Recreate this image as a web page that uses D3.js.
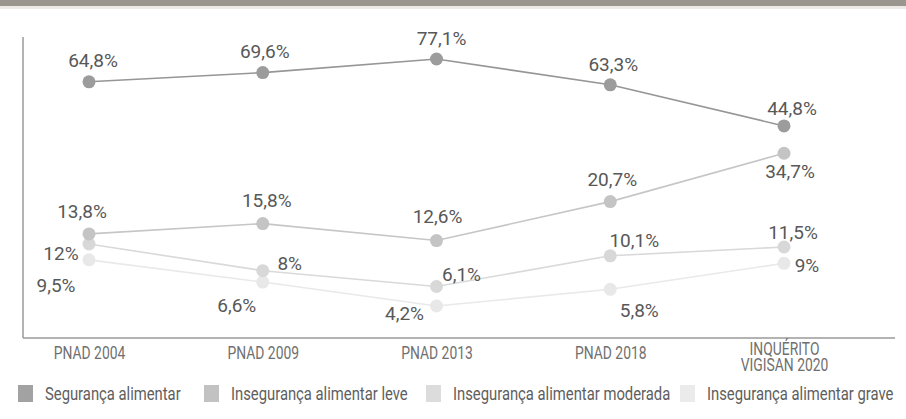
<!DOCTYPE html>
<html>
<head>
<meta charset="utf-8">
<script src="https://cdn.jsdelivr.net/npm/d3@7"></script>
<style>
  body { margin: 0; background: #fff; }
  text { font-family: Roboto, "DejaVu Sans", sans-serif; }
</style>
</head>
<body>
<div id="line-chart"></div>
<script>
// data
const categories = ["PNAD 2004", "PNAD 2009", "PNAD 2013", "PNAD 2018", "INQUÉRITO\nVIGISAN 2020"];
const seriesNames = ["Segurança alimentar", "Insegurança alimentar leve", "Insegurança alimentar moderada", "Insegurança alimentar grave"];
const seguranca = [64.8, 69.6, 77.1, 63.3, 44.8];
const insegLeve = [13.8, 15.8, 12.6, 20.7, 34.7];
const insegModerada = [12, 8, 6.1, 10.1, 11.5];
const insegGrave = [9.5, 6.6, 4.2, 5.8, 9];

// label placement (dx, dy from the point), per series
const labelOffsets = [
  [[4, -22], [2, -21], [5, -21], [3, -21], [8, -18]],
  [[-7, -23], [4, -23], [1, -24], [2, -22], [6, 18]],
  [[-28, 9], [27, -8], [25, -12], [24, -16], [9, -15]],
  [[-33, 25], [-26, 23], [-32, 7], [29, 21], [23, 2]]
];
// legend item left edges
const legendX = [18, 204, 426, 680];

function drawChart(cWidth, cHeight) {
  const lineColors = ["#969696", "#c6c6c6", "#d9d9d9", "#e9e9e9"],
    dotColors = ["#9c9c9c", "#c4c4c4", "#d8d8d8", "#e8e8e8"],
    legendColors = ["#a2a2a2", "#c2c2c2", "#dcdcdc", "#ebebeb"],
    allSeries = [seguranca, insegLeve, insegModerada, insegGrave],
    narrow = 0.75,
    svg = d3
      .select("#line-chart")
      .append("svg")
      .attr("width", cWidth)
      .attr("height", cHeight);

  // scanned page edge at the top
  svg.append("rect").attr("x", 0).attr("y", 0).attr("width", cWidth).attr("height", 6).attr("fill", "#9a958f");
  svg.append("rect").attr("x", 0).attr("y", 6).attr("width", cWidth).attr("height", 3).attr("fill", "#ece9e6");

  const x = d3.scalePoint().domain(categories).range([89, 784]),
    y = d3
      .scalePow()
      .exponent(0.35)
      .domain(d3.extent(allSeries.flat()))
      .range([306, 59]);

  // axes frame
  svg.append("line").attr("x1", 23).attr("x2", 23).attr("y1", 37).attr("y2", 338)
    .attr("stroke", "#9a9a9a").attr("stroke-width", 1.5);
  svg.append("line").attr("x1", 23).attr("x2", 895).attr("y1", 338).attr("y2", 338)
    .attr("stroke", "#9a9a9a").attr("stroke-width", 1.5);

  const xAxis = svg
    .append("g")
    .attr("transform", "translate(0, 338)")
    .call(d3.axisBottom(x).tickSize(0).tickFormat(""));
  xAxis.select(".domain").remove();
  xAxis.selectAll(".tick").each(function (d) {
    const lines = d.split("\n"),
      t = d3.select(this).append("text")
        .attr("fill", "#707070")
        .attr("font-size", 18.5)
        .attr("text-anchor", "middle")
        .attr("transform", `translate(0, ${lines.length > 1 ? 17 : 21}) scale(${narrow}, 1)`);
    lines.forEach((l, i) => {
      t.append("tspan").attr("x", 0).attr("y", i * 16).text(l);
    });
  });

  // lines, drawn light series first
  const line = d3.line().x((d, i) => x(categories[i])).y(d => y(d));
  for (let s = allSeries.length - 1; s >= 0; s--) {
    svg.append("path")
      .attr("fill", "none")
      .attr("stroke", lineColors[s])
      .attr("stroke-width", 1.6)
      .attr("d", line(allSeries[s]));
    svg.selectAll(".dot" + s)
      .data(allSeries[s])
      .enter()
      .append("circle")
      .attr("cx", (d, i) => x(categories[i]))
      .attr("cy", d => y(d))
      .attr("r", 6.5)
      .attr("fill", dotColors[s]);
  }

  // value labels
  allSeries.forEach((vals, s) => {
    svg.selectAll(".lbl" + s)
      .data(vals)
      .enter()
      .append("text")
      .attr("x", (d, i) => x(categories[i]) + labelOffsets[s][i][0])
      .attr("y", (d, i) => y(d) + labelOffsets[s][i][1])
      .attr("dy", "0.36em")
      .attr("text-anchor", "middle")
      .attr("font-size", 19)
      .attr("fill", "#585858")
      .text(d => String(d).replace(".", ",") + "%");
  });

  // legend
  seriesNames.forEach((name, i) => {
    svg.append("rect").attr("x", legendX[i]).attr("y", 385).attr("width", 15).attr("height", 17)
      .attr("fill", legendColors[i]);
    svg.append("text")
      .attr("transform", `translate(${legendX[i] + 27}, 399.5) scale(0.78, 1)`)
      .attr("font-size", 19)
      .attr("fill", "#5e5e5e")
      .text(name);
  });
}

drawChart(906, 419);
</script>
</body>
</html>
